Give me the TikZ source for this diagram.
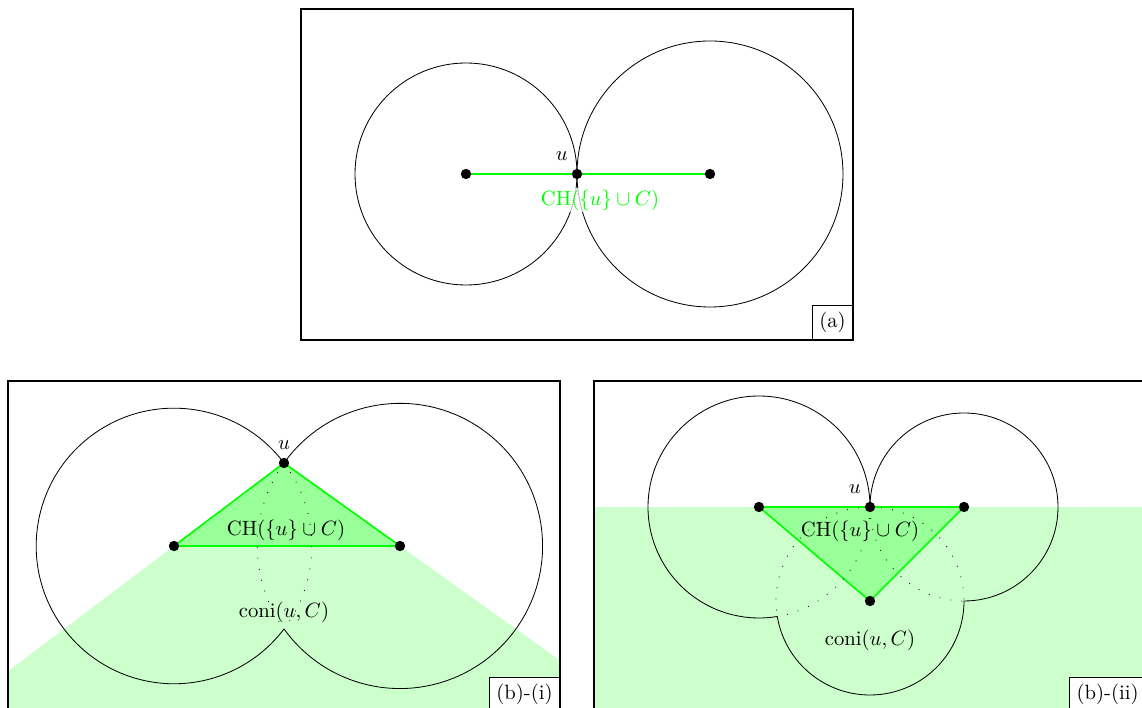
\documentclass[tikz,border=0pt]{standalone}
\usepackage{amsmath}
\usepackage{amssymb}
\usetikzlibrary{calc,positioning}

\begin{document}
\begin{tikzpicture}[x=0.017cm,y=0.017cm,
   frm/.style={draw,thick},
   tag/.style={draw,anchor=south east,fill=white},
   hull/.style={draw=green,thick,fill=green!40},
   cone/.style={fill=green!20},
   inner/.style={dash pattern=on 0.4pt off 5pt},
   lab/.style={inner sep=1pt}]
  \useasboundingbox (0,0) rectangle (1142,708);
  \clip (0,0) rectangle (1142,708);
  % (a)
  \begin{scope}[shift={(301,368)}]
    \coordinate (ac1) at (165,166);
    \coordinate (au) at (276,166);
    \coordinate (ac2) at (409,166);
    \draw (ac1) circle[radius=111];
    \draw (ac2) circle[radius=133];
    \draw[green,thick] (ac1) -- (ac2);
    \node[lab,text=green,fill=white,fill opacity=0.7,text opacity=1] (ach) at (299,140) {CH$(\{u\}\cup C)$};
    \node[above left=3pt and 1pt of au] (aul) {$u$};
    \foreach \p in {ac1,au,ac2} \fill (\p) circle[radius=2.5pt];
    \draw[frm] (0,0) rectangle (552,331);
    \node[tag] (atag) at (552,0) {(a)};
  \end{scope}
  % (b)-(i)
  \begin{scope}[shift={(8,-4)}]
    \coordinate (bu) at (276,249);
    \coordinate (bc1) at (166,166);
    \coordinate (bc2) at (392,166);
    \begin{scope}
      \clip (0,0) rectangle (552,331);
      \fill[cone] (bu) -- ($(bu)!4!(bc1)$) -- ($(bu)!4!(bc2)$) -- cycle;
    \end{scope}
    \draw[hull] (bu) -- (bc1) -- (bc2) -- cycle;
    \draw (bu) arc[start angle=37.03,end angle=322.97,radius=137.8];
    \draw[inner] (bu) arc[start angle=37.03,end angle=-37.03,radius=137.8];
    \draw (bu) arc[start angle=144.42,end angle=-144.42,radius=142.6];
    \draw[inner] (bu) arc[start angle=144.42,end angle=215.58,radius=142.6];
    \node (bch) at (278,182) {CH$(\{u\}\cup C)$};
    \node (bco) at (276,100) {coni$(u,C)$};
    \node[above=3pt of bu] (bul) {$u$};
    \foreach \p in {bu,bc1,bc2} \fill (\p) circle[radius=2.5pt];
    \draw[frm] (0,0) rectangle (552,331);
    \node[tag] (btag) at (552,0) {(b)-(i)};
  \end{scope}
  % (b)-(ii)
  \begin{scope}[shift={(594,-4)}]
    \coordinate (cu) at (276,205);
    \coordinate (cc1) at (165,205);
    \coordinate (cc2) at (370,205);
    \coordinate (cc3) at (276,111);
    \fill[cone] (0,0) rectangle (552,205);
    \draw[hull] (cc1) -- (cc2) -- (cc3) -- cycle;
    \draw (cu) arc[start angle=0,end angle=279.48,radius=111];
    \draw[inner] (cu) arc[start angle=0,end angle=-80.52,radius=111];
    \draw (cu) arc[start angle=180,end angle=-90,radius=94];
    \draw[inner] (cu) arc[start angle=180,end angle=270,radius=94];
    \draw[inner] (cu) arc[start angle=90,end angle=189.48,radius=94];
    \draw[inner] (cu) arc[start angle=90,end angle=0,radius=94];
    \draw ([shift={(189.48:94)}]cc3) arc[start angle=189.48,end angle=360,radius=94];
    \node (cch) at (266,181) {CH$(\{u\}\cup C)$};
    \node (cco) at (276,72) {coni$(u,C)$};
    \node[above left=3pt and 1pt of cu] (cul) {$u$};
    \foreach \p in {cu,cc1,cc2,cc3} \fill (\p) circle[radius=2.5pt];
    \draw[frm] (0,0) rectangle (552,331);
    \node[tag] (ctag) at (552,0) {(b)-(ii)};
  \end{scope}
\end{tikzpicture}
\end{document}
